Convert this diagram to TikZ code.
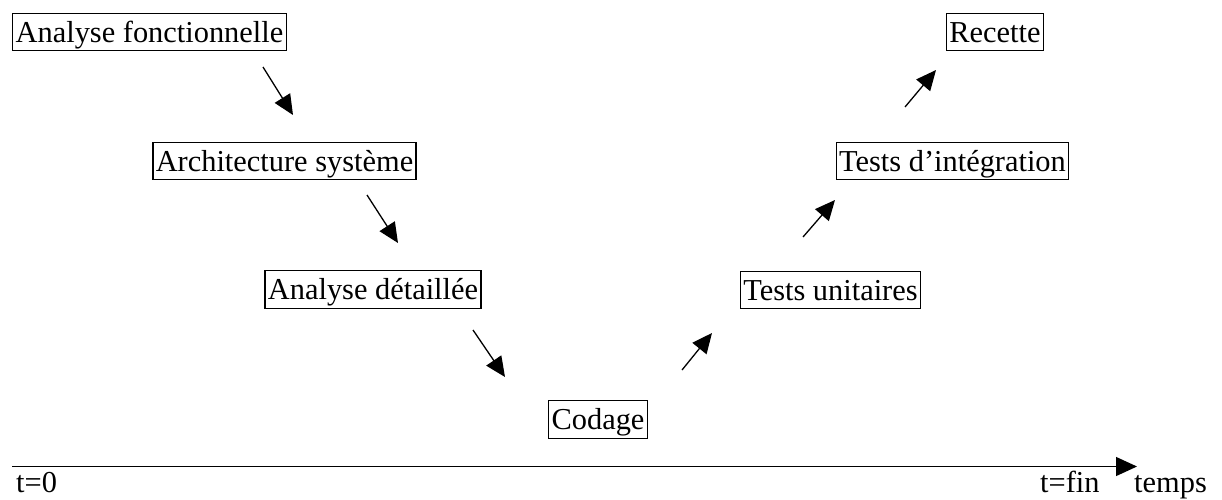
\documentclass[tikz,border=0pt]{standalone}
\usepackage{fontspec}
\setmainfont{Liberation Serif}
\usetikzlibrary{arrows.meta}
\begin{document}
\begin{tikzpicture}[x=1pt,y=-1pt,
  stage/.style={draw,line width=1.3pt,inner xsep=2.9pt,inner ysep=1.9pt,
    text height=27.1pt,text depth=6.6pt,font=\fontsize{30.4}{36}\selectfont},
  flow/.style={line width=1.3pt,-{Triangle[length=20pt,width=18pt]}},
  lbl/.style={anchor=base west,inner sep=0pt,font=\fontsize{30.4}{36}\selectfont}]
\useasboundingbox (0,0) rectangle (1222,499);

\node[stage] (af) at (149.5,32) {Analyse fonctionnelle};
\node[stage] (as) at (284.5,161) {Architecture système};
\node[stage] (ad) at (373,289.5) {Analyse détaillée};
\node[stage] (co) at (598,419.5) {Codage};
\node[stage] (tu) at (830.5,290) {Tests unitaires};
\node[stage] (ti) at (952.5,161) {Tests d’intégration};
\node[stage] (re) at (995,32) {Recette};

\coordinate (a1s) at (263,67);  \coordinate (a1e) at (293,115);
\coordinate (a2s) at (367,195); \coordinate (a2e) at (398,243);
\coordinate (a3s) at (473,330); \coordinate (a3e) at (505,377);
\coordinate (a4s) at (682,370); \coordinate (a4e) at (712,333);
\coordinate (a5s) at (803,237); \coordinate (a5e) at (835,200);
\coordinate (a6s) at (905,107); \coordinate (a6e) at (936,70);

\draw[flow] (a1s) -- (a1e);
\draw[flow] (a2s) -- (a2e);
\draw[flow] (a3s) -- (a3e);
\draw[flow] (a4s) -- (a4e);
\draw[flow] (a5s) -- (a5e);
\draw[flow] (a6s) -- (a6e);

\coordinate (ax0) at (12,466.5);
\coordinate (ax1) at (1137,466.5);
\draw[line width=1.3pt,-{Triangle[length=21pt,width=19pt]}] (ax0) -- (ax1);

\node[lbl] (t0) at (16,492) {t=0};
\node[lbl] (tf) at (1040,492) {t=fin};
\node[lbl] (tp) at (1134,492) {temps};
\end{tikzpicture}
\end{document}
